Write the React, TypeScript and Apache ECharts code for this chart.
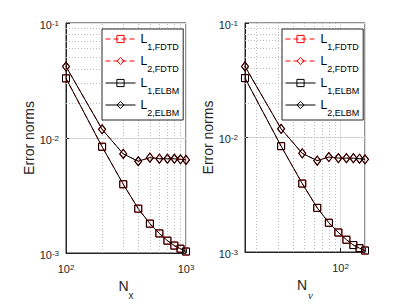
import React, { useEffect, useRef } from 'react';
import * as echarts from 'echarts';

// ---- data ----
const nxValues = [100, 200, 300, 400, 500, 600, 700, 800, 900, 1000];
const nnuValues = [16, 32, 48, 64, 80, 96, 112, 128, 144, 160];

const l1FdtdNx = [0.033, 0.0084, 0.00396, 0.00243, 0.0018, 0.00148, 0.00128, 0.00116, 0.00109, 0.00103];
const l2FdtdNx = [0.0418, 0.0119, 0.00727, 0.00628, 0.00675, 0.00661, 0.0066, 0.0066, 0.00653, 0.00645];
const l1ElbmNx = [0.033, 0.0084, 0.00396, 0.00243, 0.0018, 0.00148, 0.00128, 0.00116, 0.00109, 0.00103];
const l2ElbmNx = [0.0418, 0.0119, 0.00727, 0.00628, 0.00675, 0.00661, 0.0066, 0.0066, 0.00653, 0.00645];

const l1FdtdNnu = [0.033, 0.0084, 0.00396, 0.00243, 0.0018, 0.00148, 0.00128, 0.00115, 0.00108, 0.00103];
const l2FdtdNnu = [0.0418, 0.0119, 0.00727, 0.00628, 0.00675, 0.00661, 0.0066, 0.0066, 0.00653, 0.00645];
const l1ElbmNnu = [0.033, 0.0084, 0.00396, 0.00243, 0.0018, 0.00148, 0.00128, 0.00115, 0.00108, 0.00103];
const l2ElbmNnu = [0.0418, 0.0119, 0.00727, 0.00628, 0.00675, 0.00661, 0.0066, 0.0066, 0.00653, 0.00645];

const yMinorGrid = [0.002, 0.003, 0.004, 0.005, 0.006, 0.007, 0.008, 0.009, 0.02, 0.03, 0.04, 0.05, 0.06, 0.07, 0.08, 0.09];
const xMinorGridNx = [200, 300, 400, 500, 600, 700, 800, 900];
const xMinorGridNnu = [20, 30, 40, 50, 60, 70, 80, 90];

const seriesNames = ['L1FDTD', 'L2FDTD', 'L1ELBM', 'L2ELBM'];
const legendSub: Record<string, string> = {
  L1FDTD: '1,FDTD',
  L2FDTD: '2,FDTD',
  L1ELBM: '1,ELBM',
  L2ELBM: '2,ELBM',
};

const FONT = 'Liberation Sans';
const TXT = '#262626';
const RED = '#ff0000';
const BLK = '#000000';

const powLabel = (v: number) => {
  const e = Math.log10(v);
  const r = Math.round(e);
  if (Math.abs(e - r) > 1e-6) return '';
  return `{b|10}{s|${r}}`;
};

const xTickRich = {
  b: { fontSize: 11, lineHeight: 16, fontFamily: FONT, color: TXT, verticalAlign: 'top' },
  s: { fontSize: 8, lineHeight: 8, fontFamily: FONT, color: TXT, verticalAlign: 'top' },
};
const yTickRich = {
  b: { fontSize: 11, lineHeight: 16, padding: [4, 0, 0, 0], fontFamily: FONT, color: TXT, verticalAlign: 'top' },
  s: { fontSize: 8, lineHeight: 8, padding: [4, 0, 0, 0], fontFamily: FONT, color: TXT, verticalAlign: 'top' },
};

export default function App() {
  const ref = useRef<HTMLDivElement>(null);
  useEffect(() => {
    if (!ref.current) return;
    const chart = echarts.init(ref.current, undefined, { renderer: 'svg' });

    const grids = [
      { left: 66, top: 23, width: 120, height: 234 },
      { left: 245, top: 23, width: 120, height: 234 },
    ];

    const xAxisBase = (gi: number, min: number, max: number, name: string) => ({
      type: 'log',
      logBase: 10,
      gridIndex: gi,
      min,
      max,
      axisLine: { show: true, lineStyle: { color: TXT, width: 1 } },
      axisTick: { show: true, inside: true, length: 4, lineStyle: { color: TXT } },
      axisLabel: { formatter: powLabel, margin: 10, rich: xTickRich },
      splitLine: { show: true, lineStyle: { color: '#dedede', width: 1 } },
      name,
      nameLocation: 'middle',
      nameGap: 26,
      nameTextStyle: {
        rich: {
          n: { fontSize: 14, lineHeight: 16, fontFamily: FONT, color: TXT, verticalAlign: 'top' },
          s: { fontSize: 10, lineHeight: 8, padding: [11, 0, 0, 0], fontFamily: FONT, color: TXT, verticalAlign: 'top' },
          g: { fontSize: 11, lineHeight: 8, padding: [11, 0, 0, 1], fontFamily: 'Liberation Serif', fontStyle: 'italic', color: TXT, verticalAlign: 'top' },
        },
      },
    });

    const yAxisBase = (gi: number) => ({
      type: 'log',
      logBase: 10,
      gridIndex: gi,
      min: 0.001,
      max: 0.1,
      axisLine: { show: true, lineStyle: { color: TXT, width: 1 } },
      axisTick: { show: true, inside: true, length: 4, lineStyle: { color: TXT } },
      axisLabel: { formatter: powLabel, margin: 7, rich: yTickRich },
      splitLine: { show: true, lineStyle: { color: '#dedede', width: 1 } },
      name: 'Error norms',
      nameLocation: 'middle',
      nameGap: 27,
      nameTextStyle: { fontSize: 14, fontFamily: FONT, color: TXT },
    });

    const mkSeries = (
      gi: number,
      xs: number[],
      ys: number[],
      name: string,
      color: string,
      dashed: boolean,
      diamond: boolean,
      markLine?: any
    ) => ({
      type: 'line',
      name,
      xAxisIndex: gi,
      yAxisIndex: gi,
      data: xs.map((x, i) => [x, ys[i]]),
      symbol: diamond ? 'diamond' : 'rect',
      symbolSize: diamond ? [7, 9] : 7,
      showSymbol: true,
      showAllSymbol: true,
      lineStyle: { color, width: 1, type: dashed ? [5, 3] : 'solid' },
      itemStyle: { color: 'transparent', borderColor: color, borderWidth: 1 },
      emphasis: { disabled: true },
      silent: true,
      ...(markLine ? { markLine } : {}),
    });

    const minorLines = (xs: number[]) => ({
      silent: true,
      symbol: 'none',
      z: 1,
      label: { show: false },
      emphasis: { disabled: true },
      lineStyle: { color: '#bdbdbd', type: [1, 2], width: 1 },
      data: [...yMinorGrid.map((v) => ({ yAxis: v })), ...xs.map((v) => ({ xAxis: v }))],
    });

    const series = [
      mkSeries(0, nxValues, l1FdtdNx, 'L1FDTD', RED, true, false, minorLines(xMinorGridNx)),
      mkSeries(0, nxValues, l2FdtdNx, 'L2FDTD', RED, true, true),
      mkSeries(0, nxValues, l1ElbmNx, 'L1ELBM', BLK, false, false),
      mkSeries(0, nxValues, l2ElbmNx, 'L2ELBM', BLK, false, true),
      mkSeries(1, nnuValues, l1FdtdNnu, 'L1FDTD', RED, true, false, minorLines(xMinorGridNnu)),
      mkSeries(1, nnuValues, l2FdtdNnu, 'L2FDTD', RED, true, true),
      mkSeries(1, nnuValues, l1ElbmNnu, 'L1ELBM', BLK, false, false),
      mkSeries(1, nnuValues, l2ElbmNnu, 'L2ELBM', BLK, false, true),
    ];

    const legendData = seriesNames.map((n) => {
      const red = n.indexOf('FDTD') >= 0;
      const c = red ? RED : BLK;
      return {
        name: n,
        itemStyle: { color: 'transparent', borderColor: c, borderWidth: 1 },
        lineStyle: { color: c, width: 1, type: red ? [5, 3] : 'solid' },
      };
    });

    const mkLegend = (left: number) => ({
      orient: 'vertical',
      left,
      top: 29,
      padding: [4, 4, 3, 3],
      itemWidth: 30,
      itemHeight: 9,
      itemGap: 4,
      itemTextGap: 2,
      backgroundColor: '#ffffff',
      borderColor: TXT,
      borderWidth: 1,
      selectedMode: false,
      data: legendData,
      formatter: (name: string) => `{l|L}{s|${legendSub[name]}}`,
      textStyle: {
        rich: {
          l: { fontSize: 12, lineHeight: 12, fontFamily: FONT, color: BLK, verticalAlign: 'top' },
          s: { fontSize: 9, lineHeight: 8, padding: [9, 0, 0, 0], fontFamily: FONT, color: BLK, verticalAlign: 'top' },
        },
      },
    });

    chart.setOption({
      animation: false,
      backgroundColor: '#ffffff',
      grid: grids.map((g) => ({ ...g, show: true, borderColor: TXT, borderWidth: 1, backgroundColor: 'transparent' })),
      xAxis: [xAxisBase(0, 100, 1000, '{n|N}{s|x}'), xAxisBase(1, 16, 160, '{n|N}{g|ν}')],
      yAxis: [yAxisBase(0), yAxisBase(1)],
      legend: [mkLegend(102), mkLegend(282)],
      series,
    } as any);

    return () => {
      chart.dispose();
    };
  }, []);

  return (
    <div
      ref={ref}
      style={{ position: 'absolute', left: 0, top: 0, width: 407, height: 305, background: '#fff' }}
    />
  );
}
